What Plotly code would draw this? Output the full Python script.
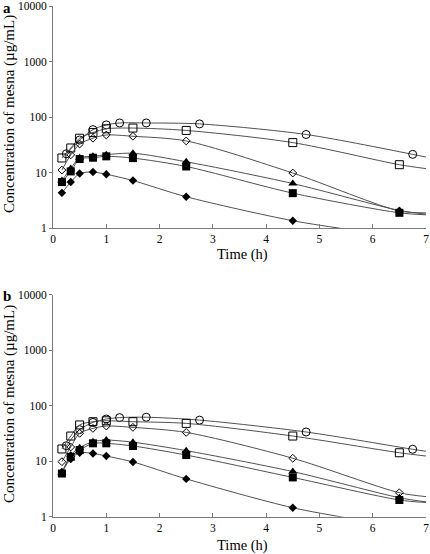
import plotly.graph_objects as go

# ---------------- data ----------------
T = [0.167, 0.333, 0.5, 0.75, 1.0, 1.5, 2.5, 4.5, 6.5]
T_CIRC = [0.25, 0.5, 0.75, 1.0, 1.25, 1.75, 2.75, 4.75, 6.75]
T_END = 7.0

# panel a
a_circle = [22, 39, 60, 73, 79, 79, 76, 49, 21.5]
a_circle_end = 19.2
a_osquare = [18.5, 28, 42, 53, 62, 64, 58, 35, 14]
a_osquare_end = 11.9
a_odiamond = [11.2, 21, 33, 42, 48, 45.5, 37.5, 9.9, 2.05]
a_odiamond_end = 1.9
a_triangle = [7.3, 12, 18.7, 19.8, 21.2, 22.5, 15.8, 6.4, 2.1]
a_triangle_end = 1.8
a_fsquare = [6.8, 10.6, 17.7, 18.7, 19.8, 18.4, 13, 4.3, 1.9]
a_fsquare_end = 1.75
a_fdiamond = [4.35, 6.8, 9.7, 10.3, 9.4, 7.25, 3.7, 1.37]
a_fdiamond_end_t, a_fdiamond_end = 5.8, 0.88

# panel b
b_circle = [19, 37, 50, 57.6, 61, 62, 55, 33.6, 16.4]
b_circle_end = 15.1
b_osquare = [16.6, 28.4, 45, 51.5, 53.5, 51.5, 48, 28.4, 14.2]
b_osquare_end = 12.4
b_odiamond = [9.8, 18, 31.8, 39, 43, 40.7, 33, 11.3, 2.7]
b_odiamond_end = 2.3
b_triangle = [6.2, 12.9, 17.5, 22.5, 24, 22, 15.5, 6.5, 2.2]
b_triangle_end = 1.85
b_fsquare = [6.0, 12, 15.9, 21, 21, 18.8, 12.9, 5.1, 2.0]
b_fsquare_end = 1.8
b_fdiamond = [6.4, 11, 14.2, 13.8, 12.4, 9.7, 4.8, 1.45]
b_fdiamond_end_t, b_fdiamond_end = 5.86, 0.84

Y_TICKS = [1, 10, 100, 1000, 10000]
Y_TICKTEXT = ["1", "10", "100", "1000", "10000"]
X_TICKS = [0, 1, 2, 3, 4, 5, 6, 7]

X_TITLE = "Time (h)"
Y_TITLE = "Concentration of mesna (µg/mL)"

# ---------------- styling ----------------
FONT = "Liberation Serif, Times New Roman, serif"
AXIS_GRAY = "#7a7a7a"
LINE_GRAY = "#505050"

STYLES = {
    "circle": dict(symbol="circle-open", size=8, color="black", line=dict(color="black", width=1)),
    "osquare": dict(symbol="square-open", size=8, color="black", line=dict(color="black", width=1)),
    "odiamond": dict(symbol="diamond-open", size=6, color="black", line=dict(color="black", width=1)),
    "triangle": dict(symbol="triangle-up", size=8, color="black", line=dict(color="black", width=0)),
    "fsquare": dict(symbol="square", size=8, color="black", line=dict(color="black", width=0)),
    "fdiamond": dict(symbol="diamond", size=6.5, color="black", line=dict(color="black", width=0)),
}

fig = go.Figure()


def add_series(xs, ys, line_x, line_y, style, xa, ya):
    fig.add_trace(go.Scatter(
        x=line_x, y=line_y, mode="lines",
        line=dict(color=LINE_GRAY, width=1, shape="spline", smoothing=0.8),
        xaxis=xa, yaxis=ya, hoverinfo="skip", showlegend=False))
    fig.add_trace(go.Scatter(
        x=xs, y=ys, mode="markers", marker=STYLES[style],
        xaxis=xa, yaxis=ya, showlegend=False, cliponaxis=False))


panels = [
    ("x", "y", a_circle, a_circle_end, a_osquare, a_osquare_end, a_odiamond, a_odiamond_end,
     a_triangle, a_triangle_end, a_fsquare, a_fsquare_end, a_fdiamond, a_fdiamond_end_t, a_fdiamond_end),
    ("x2", "y2", b_circle, b_circle_end, b_osquare, b_osquare_end, b_odiamond, b_odiamond_end,
     b_triangle, b_triangle_end, b_fsquare, b_fsquare_end, b_fdiamond, b_fdiamond_end_t, b_fdiamond_end),
]

for (xa, ya, circ, circ_e, osq, osq_e, odia, odia_e, tri, tri_e, fsq, fsq_e, fdia, fdia_t, fdia_e) in panels:
    add_series(T_CIRC, circ, T_CIRC + [T_END], circ + [circ_e], "circle", xa, ya)
    add_series(T, osq, T + [T_END], osq + [osq_e], "osquare", xa, ya)
    add_series(T, odia, T + [T_END], odia + [odia_e], "odiamond", xa, ya)
    add_series(T, tri, T + [T_END], tri + [tri_e], "triangle", xa, ya)
    add_series(T, fsq, T + [T_END], fsq + [fsq_e], "fsquare", xa, ya)
    n = len(fdia)
    add_series(T[:n], fdia, T[:n] + [fdia_t], fdia + [fdia_e], "fdiamond", xa, ya)

W, H = 430, 554
x_dom = [53 / W, 426 / W]
ya_dom = [(H - 228.3) / H, (H - 6.3) / H]
yb_dom = [(H - 516.7) / H, (H - 294.7) / H]

tickfont = dict(family=FONT, size=11.5, color="black")


def xaxis(anchor):
    return dict(domain=x_dom, range=[0, 7], tickvals=X_TICKS, ticks="inside", ticklen=4,
                tickcolor=AXIS_GRAY, showline=True, linecolor=AXIS_GRAY, linewidth=1,
                showgrid=False, zeroline=False, tickfont=tickfont, anchor=anchor,
                automargin=False, ticklabeloverflow="allow")


def yaxis(dom, anchor):
    return dict(domain=dom, type="log", range=[0, 4], tickvals=Y_TICKS, ticktext=Y_TICKTEXT,
                ticks="outside", ticklen=3, tickcolor=AXIS_GRAY, showline=True,
                linecolor=AXIS_GRAY, linewidth=1, showgrid=False, zeroline=False,
                tickfont=tickfont, anchor=anchor, automargin=False, ticklabeloverflow="allow")


def px_ann(text, x, y, size, angle=0, xanchor="center"):
    return dict(text=text, x=x / W, y=1 - y / H, xref="paper", yref="paper",
                xanchor=xanchor, yanchor="middle", showarrow=False, textangle=angle,
                font=dict(family=FONT, size=size, color="black"))


fig.update_layout(
    width=W, height=H,
    margin=dict(l=0, r=0, t=0, b=0, autoexpand=False),
    paper_bgcolor="white", plot_bgcolor="white",
    font=dict(family=FONT, color="black"),
    showlegend=False,
    xaxis=xaxis("y"),
    yaxis=yaxis(ya_dom, "x"),
    xaxis2=xaxis("y2"),
    yaxis2=yaxis(yb_dom, "x2"),
    annotations=[
        px_ann("<b>a</b>", 1, 8, 15, xanchor="left"),
        px_ann("<b>b</b>", 1, 296, 15, xanchor="left"),
        px_ann(X_TITLE, 242, 254, 14.5),
        px_ann(X_TITLE, 242, 545, 14.5),
        px_ann(Y_TITLE, 9, 114, 15, angle=-90),
        px_ann(Y_TITLE, 9, 404, 15, angle=-90),
    ],
)

fig.write_html("out.html", config={"displayModeBar": False},
               post_script="document.body.style.margin='0px';")
